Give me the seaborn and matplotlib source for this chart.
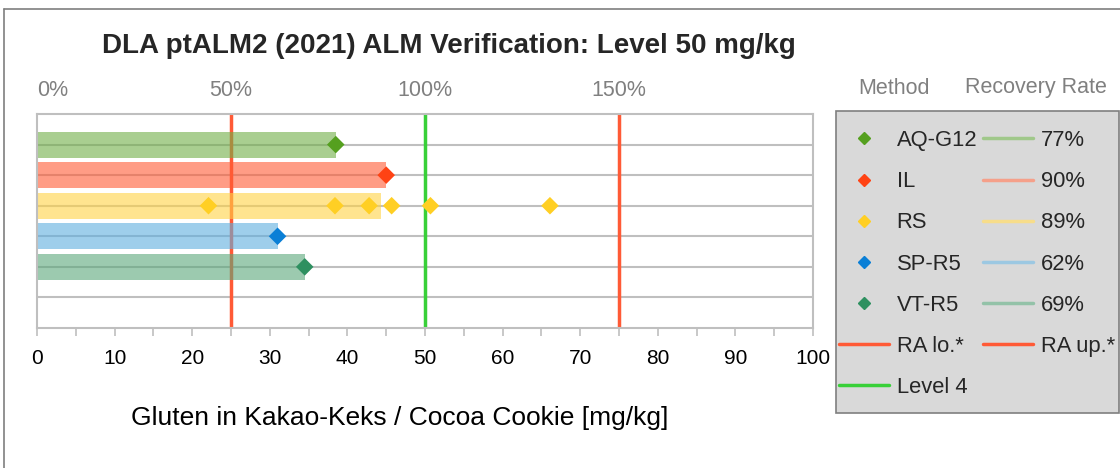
import matplotlib
matplotlib.use("Agg")
import matplotlib.pyplot as plt
import seaborn as sns
import pandas as pd
from matplotlib.lines import Line2D
from matplotlib.patches import Rectangle
from matplotlib.ticker import MultipleLocator

# ---------------- data ----------------
methods = ["AQ-G12", "IL", "RS", "SP-R5", "VT-R5"]
aq_values = [38.5]
il_values = [45.0]
rs_values = [22.1, 38.4, 42.8, 45.7, 50.7, 66.1]
sp_values = [31.0]
vt_values = [34.5]
recovery = ["77%", "90%", "89%", "62%", "69%"]
level = 50
ra_lo = 25
ra_up = 75
x_ticks = [0, 10, 20, 30, 40, 50, 60, 70, 80, 90, 100]
pct_ticks = [0, 50, 100, 150]

marker_colors = ["#55a01f", "#ff4314", "#ffcf24", "#0a7fd6", "#2e9060"]
bar_colors = ["#70ae47", "#ff5a34", "#ffd245", "#5eaedf", "#5aa77a"]
legend_line_colors = ["#a0c88a", "#f5a08a", "#f7dd8a", "#9cc8e2", "#93c2a8"]
red_line = "#ff5a36"
green_line = "#38d038"

# ---------------- long table ----------------
series = [aq_values, il_values, rs_values, sp_values, vt_values]
rows = []
for i, (m, vals) in enumerate(zip(methods, series)):
    for v in vals:
        rows.append({"method": m, "pos": i + 1, "value": v})
df = pd.DataFrame(rows)

sns.set_style("white")
plt.rcParams["font.family"] = ["Liberation Sans", "DejaVu Sans"]

fig = plt.figure(figsize=(11.2, 4.68), dpi=100)
ax = fig.add_axes([37 / 1120, 1 - 328 / 468, (813 - 37) / 1120, (328 - 114) / 468])

grey = "#bfbfbf"
# grid lines
for yv in range(1, 7):
    ax.axhline(yv, color=grey, lw=1.5, zorder=1)

# reference lines
ax.axvline(ra_lo, color=red_line, lw=2.5, zorder=1.5)
ax.axvline(ra_up, color=red_line, lw=2.5, zorder=1.5)
ax.axvline(level, color=green_line, lw=2.5, zorder=1.5)

sns.barplot(data=df, x="value", y="pos", hue="method", orient="h",
            native_scale=True, palette=dict(zip(methods, bar_colors)),
            errorbar=None, width=0.85, alpha=0.6, linewidth=0, saturation=1,
            dodge=False, legend=False, ax=ax, zorder=2)

sns.scatterplot(data=df, x="value", y="pos", hue="method",
                palette=dict(zip(methods, marker_colors)), marker="D",
                s=80, linewidth=0, legend=False, ax=ax, zorder=4)

ax.set_xlim(0, 100)
ax.set_ylim(7, 0)
ax.set_yticks([])
ax.set_ylabel("")
ax.set_xticks(x_ticks)
ax.set_xticklabels([str(t) for t in x_ticks])
ax.xaxis.set_minor_locator(MultipleLocator(5))
ax.tick_params(axis="x", which="both", direction="out", length=6, width=1.2,
               color=grey, labelsize=15, labelcolor="black", pad=9, bottom=True)
for s in ax.spines.values():
    s.set_color(grey)
    s.set_linewidth(1.5)
ax.set_xlabel("Gluten in Kakao-Keks / Cocoa Cookie [mg/kg]", fontsize=19,
              color="black")
ax.xaxis.set_label_coords((400 - 37) / 776, (328 - 418) / 214)
ax.xaxis.label.set_va("center")

sec = ax.secondary_xaxis("top", functions=(lambda x: x * 100 / level,
                                           lambda p: p * level / 100))
sec.set_xticks(pct_ticks)
sec_labels = sec.set_xticklabels([f"{p}%" for p in pct_ticks])
sec.tick_params(length=0, labelsize=15.5, labelcolor="#808080", pad=9)
sec.spines["top"].set_visible(False)
sec_labels[0].set_ha("left")

# title
fig.text(449 / 1120, 1 - 46 / 468,
         "DLA ptALM2 (2021) ALM Verification: Level 50 mg/kg",
         ha="center", va="center", fontsize=20, fontweight="bold")

# outer border (left and top)
fig.add_artist(Line2D([4 / 1120, 4 / 1120], [0, 1 - 9 / 468], color="#7f7f7f",
                      lw=1.2, transform=fig.transFigure))
fig.add_artist(Line2D([4 / 1120, 1], [1 - 9 / 468, 1 - 9 / 468], color="#7f7f7f",
                      lw=1.2, transform=fig.transFigure))

# legend box
fig.add_artist(Rectangle((836 / 1120, 1 - 413 / 468), (1119 - 836) / 1120,
                         (413 - 111) / 468, transform=fig.transFigure,
                         facecolor="#d9d9d9", edgecolor="#7f7f7f", lw=1.2, zorder=1))
fig.text(894 / 1120, 1 - 88 / 468, "Method", ha="center", va="center",
         fontsize=15.5, color="#808080")
fig.text(1036 / 1120, 1 - 88 / 468, "Recovery Rate", ha="center", va="center",
         fontsize=15.5, color="#808080")

handles, labels = [], []
for m, c in zip(methods, marker_colors):
    handles.append(Line2D([], [], marker="D", ls="none", color=c, markersize=6.5))
    labels.append(m)
handles.append(Line2D([], [], color=red_line, lw=2.5))
labels.append("RA lo.*")
handles.append(Line2D([], [], color=green_line, lw=2.5))
labels.append("Level 4")
for r, c in zip(recovery, legend_line_colors):
    handles.append(Line2D([], [], color=c, lw=2.5))
    labels.append(r)
handles.append(Line2D([], [], color=red_line, lw=2.5))
labels.append("RA up.*")
handles.append(Line2D([], [], color="none"))
labels.append("")

leg = fig.legend(handles, labels, ncol=2, loc="upper left",
                 bbox_to_anchor=(839 / 1120, 1 - 130 / 468),
                 frameon=False, fontsize=15.8, handlelength=2.3,
                 handletextpad=0.33, columnspacing=0.25, labelspacing=0.92,
                 borderpad=0, borderaxespad=0)
leg.set_zorder(5)

fig.savefig("out.png", dpi=100)
